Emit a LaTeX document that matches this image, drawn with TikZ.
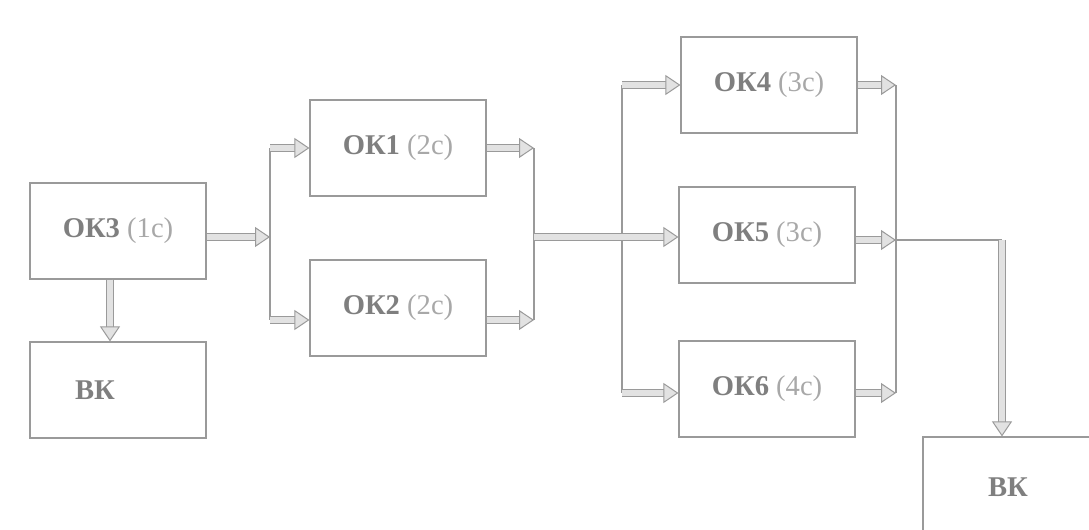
\documentclass[tikz,border=0pt]{standalone}
\usepackage{fontspec}
\setmainfont{Liberation Serif}
\usetikzlibrary{arrows.meta}
\definecolor{boxc}{HTML}{9A9A9A}
\definecolor{txtb}{HTML}{7F7F7F}
\definecolor{txtl}{HTML}{A8A8A8}
\definecolor{arrf}{HTML}{E2E2E2}
\newcommand{\lab}[2]{\textbf{\color{txtb}#1} {\color{txtl}#2}}
\begin{document}
\begin{tikzpicture}[x=0.5pt,y=-0.5pt,
  box/.style={draw=boxc, line width=0.55pt, minimum width=88pt, minimum height=48pt, inner sep=0pt, font=\fontsize{14.3}{17}\selectfont},
  txt/.style={font=\fontsize{14.3}{17}\selectfont, inner sep=0pt},
  thin/.style={draw=boxc, line width=0.55pt},
  fat/.style={draw=boxc, line width=0.5pt, double=arrf, double distance=3pt, -{Triangle[length=7.5pt,width=10pt,fill=arrf]}}]
\useasboundingbox (0,0) rectangle (1089,530);
% boxes
\node[box] (ok3) at (118,231) {\lab{ОК3}{(1с)}};
\node[box] (bk1) at (118,390) {};
\node[txt] (bk1t) at (95,390) {\textbf{\color{txtb}ВК}};
\node[box] (ok1) at (398,148) {\lab{ОК1}{(2с)}};
\node[box] (ok2) at (398,308) {\lab{ОК2}{(2с)}};
\node[box] (ok4) at (769,85) {\lab{ОК4}{(3с)}};
\node[box] (ok5) at (767,235) {\lab{ОК5}{(3с)}};
\node[box] (ok6) at (767,389) {\lab{ОК6}{(4с)}};
\node[box, minimum width=85pt, minimum height=50pt] (bk2) at (1008,487) {\textbf{\color{txtb}ВК}};
% junction coordinates
\coordinate (v0) at (110,300);
\coordinate (a1) at (270,148);
\coordinate (a2) at (270,320);
\coordinate (a0) at (270,237);
\coordinate (b1) at (534,148);
\coordinate (b2) at (534,320);
\coordinate (b0) at (534,237);
\coordinate (c1) at (622,85);
\coordinate (c3) at (622,393);
\coordinate (d1) at (896,85);
\coordinate (d2) at (896,240);
\coordinate (d3) at (896,393);
\coordinate (e1) at (1002,240);
% connectors
\draw[fat] (ok3.south -| v0) -- (bk1.north -| v0);
\draw[fat] (ok3.east |- a0) -- (a0);
\draw[thin] (a1) -- (a2);
\draw[fat] (a1) -- (ok1.west |- a1);
\draw[fat] (a2) -- (ok2.west |- a2);
\draw[fat] (ok1.east |- b1) -- (b1);
\draw[fat] (ok2.east |- b2) -- (b2);
\draw[thin] (b1) -- (b2);
\draw[thin] (c1) -- (c3);
\draw[fat] (b0) -- (ok5.west |- b0);
\draw[fat] (c1) -- (ok4.west |- c1);
\draw[fat] (c3) -- (ok6.west |- c3);
\draw[fat] (ok4.east |- d1) -- (d1);
\draw[fat] (ok5.east |- d2) -- (d2);
\draw[fat] (ok6.east |- d3) -- (d3);
\draw[thin] (d1) -- (d3);
\draw[thin] (d2) -- (e1);
\draw[fat] (e1) -- (bk2.north -| e1);
\end{tikzpicture}
\end{document}
